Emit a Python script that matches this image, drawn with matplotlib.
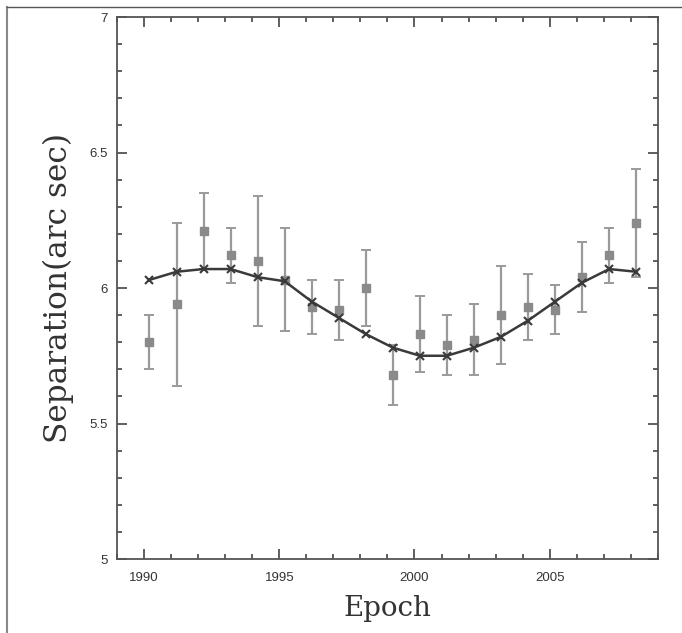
import matplotlib
matplotlib.use("Agg")
import matplotlib.pyplot as plt
from matplotlib.lines import Line2D
from matplotlib.ticker import MultipleLocator

# epochs of the measurements
epochs = [1990.2, 1991.2, 1992.2, 1993.2, 1994.2, 1995.2, 1996.2, 1997.2, 1998.2, 1999.2,
          2000.2, 2001.2, 2002.2, 2003.2, 2004.2, 2005.2, 2006.2, 2007.2, 2008.2]

# observed separations with errors
observed = [5.80, 5.94, 6.21, 6.12, 6.10, 6.03, 5.93, 5.92, 6.00, 5.68,
            5.83, 5.79, 5.81, 5.90, 5.93, 5.92, 6.04, 6.12, 6.24]
errors = [0.10, 0.30, 0.14, 0.10, 0.24, 0.19, 0.10, 0.11, 0.14, 0.11,
          0.14, 0.11, 0.13, 0.18, 0.12, 0.09, 0.13, 0.10, 0.20]

# orbit fit values
fitted = [6.03, 6.06, 6.07, 6.07, 6.04, 6.025, 5.95, 5.89, 5.83, 5.78,
          5.75, 5.75, 5.78, 5.82, 5.88, 5.95, 6.02, 6.07, 6.06]

fig = plt.figure(figsize=(6.82, 6.33), dpi=100)
ax = fig.add_axes([0.1716, 0.1169, 0.793, 0.8562])

ax.errorbar(epochs, observed, yerr=errors, fmt='s', color='#8a8a8a', ecolor='#9a9a9a',
            markersize=5.8, elinewidth=1.6, capsize=3.8, capthick=1.4, zorder=2)
ax.plot(epochs, fitted, color='#3a3a3a', lw=1.8, marker='x', markersize=6,
        markeredgewidth=1.5, zorder=3)

ax.set_xlim(1989, 2009)
ax.set_ylim(5, 7)
ax.set_xticks([1990, 1995, 2000, 2005])
ax.set_yticks([5, 5.5, 6, 6.5, 7])
ax.set_yticklabels(['5', '5.5', '6', '6.5', '7'])
ax.xaxis.set_minor_locator(MultipleLocator(1))
ax.yaxis.set_minor_locator(MultipleLocator(0.1))

ax.tick_params(which='both', direction='in', top=True, right=True, color='#444444', width=1.2)
ax.tick_params(which='major', length=7)
ax.tick_params(which='minor', length=3.6)
ax.tick_params(axis='x', which='major', pad=9, labelsize=9.5)
ax.tick_params(axis='y', which='major', pad=7, labelsize=9.5)
for lab in ax.get_xticklabels() + ax.get_yticklabels():
    lab.set_family('Liberation Sans')
    lab.set_color('#333333')

for sp in ax.spines.values():
    sp.set_color('#555555')
    sp.set_linewidth(1.3)

ax.set_xlabel('Epoch', family='DejaVu Serif', fontsize=20, color='#333333', labelpad=8)
ax.set_ylabel('Separation(arc sec)', family='DejaVu Serif', fontsize=22.5, color='#333333', labelpad=11)

# thin frame round the picture
fig.add_artist(Line2D([7 / 682, 7 / 682], [0, 1 - 7 / 633], color='#888888', lw=1.5))
fig.add_artist(Line2D([7 / 682, 1], [1 - 7 / 633, 1 - 7 / 633], color='#555555', lw=1.0))

fig.savefig('out.png', dpi=100)
